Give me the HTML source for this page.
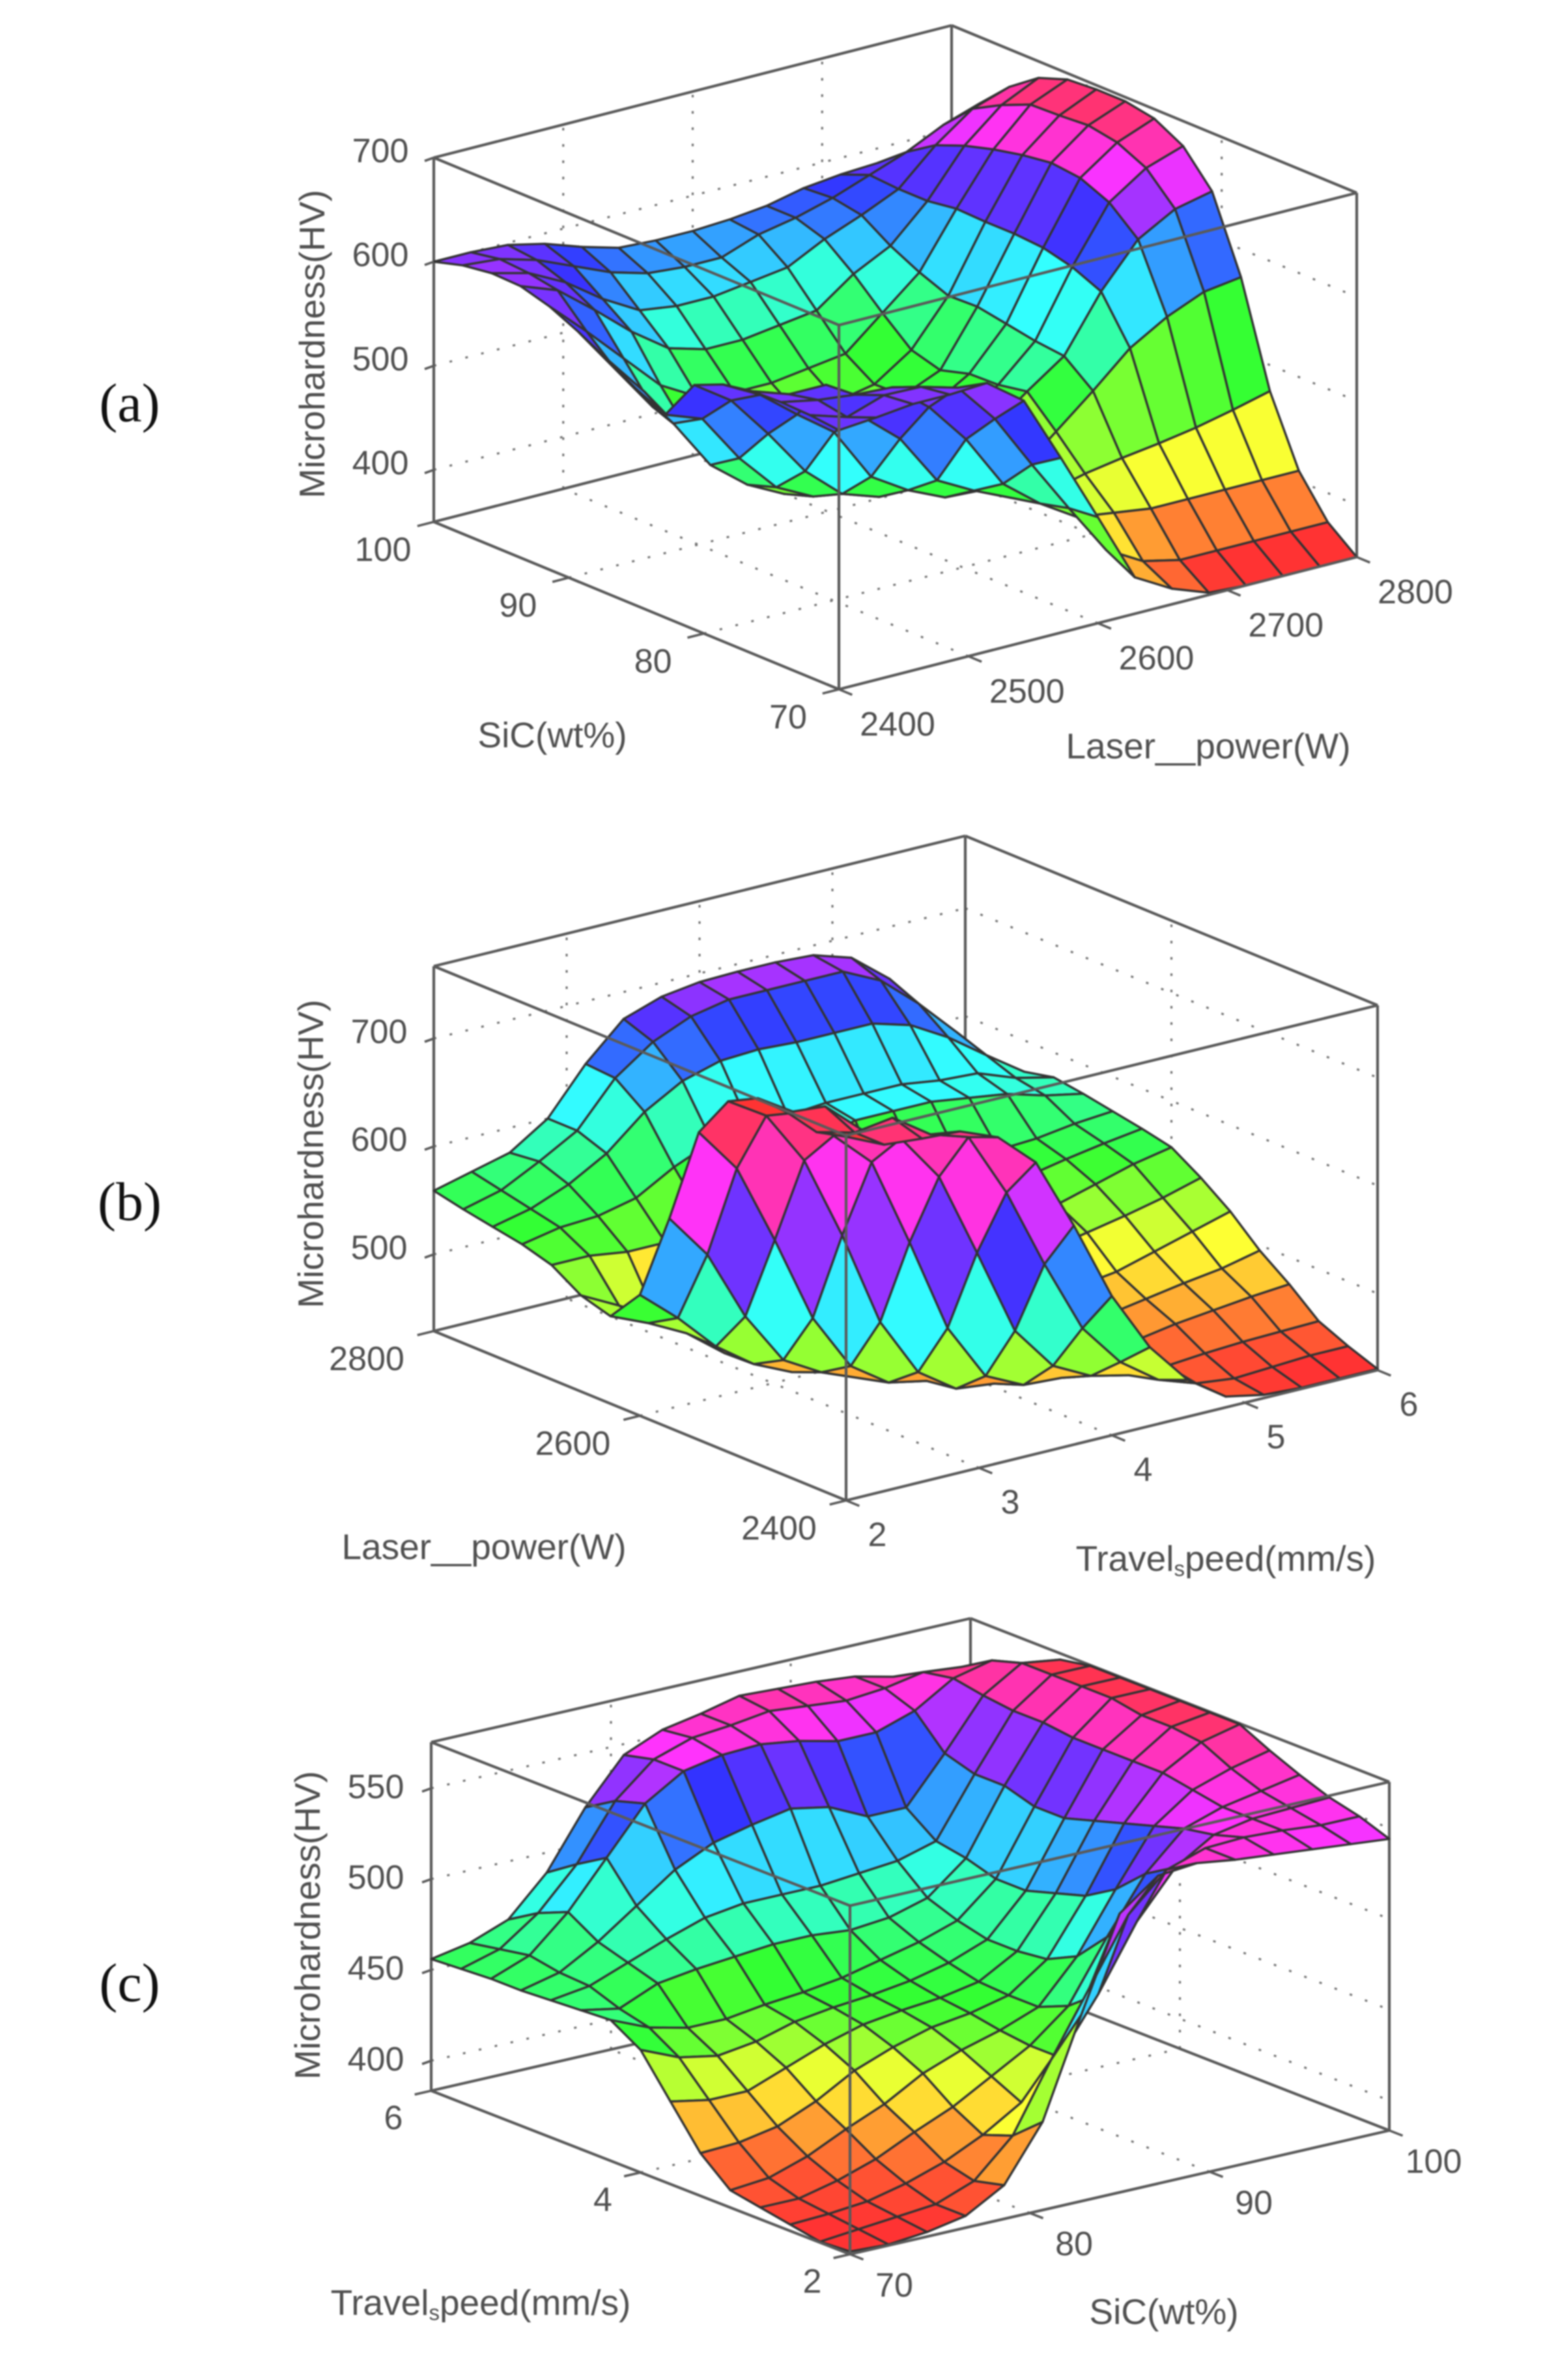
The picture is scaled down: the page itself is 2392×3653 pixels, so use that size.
<!DOCTYPE html>
<html lang="en">
<head>
<meta charset="utf-8">
<title>Microhardness response surfaces</title>
<style>
html,body{margin:0;padding:0;background:#fff;}
#figure{display:block;width:2392px;height:3653px;filter:blur(1px);}
</style>
</head>
<body>
<svg id="figure" xmlns="http://www.w3.org/2000/svg" width="2392" height="3653" viewBox="0 0 2392 3653"></svg>
<script>
/* Rows run along the second floor axis, columns along the first floor axis. */
const surfaceA = [
[599,602,606,606,608,582,518,452,385,365,352,350,350,350,350],
[602,591,603,602,592,553,500,449,400,380,372,372,372,372,372],
[603,596,592,590,562,522,470,442,420,415,410,410,410,410,410],
[602,590,590,550,520,471,452,436,432,441,447,452,458,466,475],
[597,578,550,524,472,450,434,432,440,470,500,532,553,568,573],
[585,561,520,475,444,432,435,450,470,497,522,575,616,636,644],
[545,532,485,448,430,430,435,450,468,492,525,587,640,664,676],
[558,516,467,439,421,425,435,450,470,491,530,594,652,677,691],
[575,535,489,445,425,430,440,452,468,483,535,596,655,682,696],
[590,545,500,465,450,450,455,460,467,491,534,596,651,680,696],
[603,570,535,500,480,475,475,480,485,515,545,597,645,679,694],
[611,598,570,540,515,505,505,510,515,541,559,593,637,667,684],
[612,603,585,560,540,535,535,540,545,563,577,593,626,652,664],
[608,605,595,580,565,555,552,552,565,572,582,595,608,625,637],
[600,600,598,590,578,568,566,566,568,572,580,584,586,590,597]
];
const surfaceB = [
[766,750,747,745,731,699,632,558,502,463,439,432,430,430,430],
[759,750,755,731,720,660,585,517,477,452,440,436,438,440,440],
[766,763,732,716,672,593,512,471,453,445,445,448,450,451,452],
[768,746,716,683,600,512,459,442,440,448,458,464,468,472,475],
[754,732,682,604,515,460,436,432,438,450,470,476,482,487,495],
[714,672,597,516,463,439,432,435,445,470,485,490,500,510,520],
[623,581,515,466,446,432,435,445,470,495,508,515,522,530,540],
[541,511,476,451,435,435,442,458,482,505,520,530,540,550,557],
[510,495,477,450,438,438,448,470,495,515,532,545,552,558,563],
[518,500,480,470,470,480,500,520,545,552,555,558,560,565,568],
[535,535,530,530,545,560,578,590,600,600,600,595,590,580,573],
[543,550,552,560,580,595,600,602,605,605,605,600,598,585,577],
[548,556,570,590,620,640,650,652,650,650,650,640,620,595,571],
[553,562,580,600,640,665,680,687,687,687,687,670,640,605,569],
[559,568,577,600,642,675,687,692,693,693,691,680,652,610,563]
];
const surfaceC = [
[385,384,386,390,402,432,486,537,553,555,552,550,548,546,544],
[384,386,388,390,398,418,455,490,525,545,552,553,552,550,550],
[387,388,390,395,402,412,425,445,475,510,535,548,552,553,554],
[390,390,395,402,412,421,433,445,462,495,525,545,552,556,560],
[393,395,402,412,421,433,441,447,455,478,510,540,555,562,567],
[407,408,412,421,433,441,447,450,455,470,500,535,558,570,575],
[429,425,425,433,441,447,450,452,456,468,495,530,558,572,575],
[451,442,438,441,447,450,452,455,460,468,490,525,558,572,575],
[461,452,447,447,450,452,455,460,465,472,490,525,558,575,575],
[460,456,465,468,470,472,472,470,472,478,495,530,560,575,575],
[459,462,470,478,485,488,488,488,490,492,498,530,560,575,575],
[458,463,475,490,505,515,520,524,520,510,510,535,562,575,572],
[458,466,485,510,535,548,552,553,550,545,545,552,565,570,560],
[457,463,478,500,530,548,555,557,560,558,556,558,562,560,550],
[456,460,468,489,520,544,553,557,562,561,560,558,553,543,540]
];

const zTicksA = [400,500,600,700];
const laserTicksA = [2400,2500,2600,2700,2800];
const sicTicksA = [70,80,90,100];

const zTicksB = [500,600,700];
const travelTicksB = [2,3,4,5,6];
const laserTicksB = [2400,2600,2800];

const zTicksC = [400,450,500,550];
const sicTicksC = [70,80,90,100];
const travelTicksC = [2,4,6];

const SVG_NS = 'http://www.w3.org/2000/svg';
const figure = document.getElementById('figure');

const charts = [
  {id:'a', surface:surfaceA, zTicks:zTicksA, uTicks:laserTicksA, vTicks:sicTicksA,
   uMin:2400, uMax:2800, vMin:70, vMax:100, zMin:350, zMax:700, cMin:350, cMax:700,
   F:[1288,1058], L:[666,801], R:[2083,855], H:559,
   uOff:[90,54], vOff:[-78,43], zOffX:-82, zOffY:-10,
   micro:[479,528], uTitle:[1855,1145], vTitle:[848,1128], panel:[199,619],
   uName:'Laser__power(W)', vName:'SiC(wt%)', uSub:false, vSub:false},
  {id:'b', surface:surfaceB, zTicks:zTicksB, uTicks:travelTicksB, vTicks:laserTicksB,
   uMin:2, uMax:6, vMin:2400, vMax:2800, zMin:429, zMax:767, cMin:430, cMax:768,
   F:[1299,2303], L:[666,2043], R:[2115,2103], H:560,
   uOff:[48,53], vOff:[-103,43], zOffX:-84, zOffY:-10,
   micro:[477,1771], uTitle:[1882,2392], vTitle:[743,2374], panel:[199,1845],
   uName:'Travel_speed(mm/s)', vName:'Laser__power(W)', uSub:true, vSub:false},
  {id:'c', surface:surfaceC, zTicks:zTicksC, uTicks:sicTicksC, vTicks:travelTicksC,
   uMin:70, uMax:100, vMin:2, vMax:6, zMin:383.5, zMax:575.4, cMin:385, cMax:580,
   F:[1305,3460], L:[662,3209], R:[2133,3270], H:535,
   uOff:[68,48], vOff:[-58,42], zOffX:-85, zOffY:-2,
   micro:[472,2955], uTitle:[1787,3548], vTitle:[738,3534], panel:[199,3044],
   uName:'SiC(wt%)', vName:'Travel_speed(mm/s)', uSub:false, vSub:true}
];

function project(c, u, v, z) {
  const w = (z - c.zMin) / (c.zMax - c.zMin);
  return [
    c.F[0] + u * (c.R[0] - c.F[0]) + v * (c.L[0] - c.F[0]),
    c.F[1] + u * (c.R[1] - c.F[1]) + v * (c.L[1] - c.F[1]) - w * c.H
  ];
}

function hueColor(c, z) {
  let t = (z - c.cMin) / (c.cMax - c.cMin);
  t = Math.max(0, Math.min(1, t));
  const h = t * 6, s = 0.8;
  const f = h - Math.floor(h);
  const lo = 1 - s;
  const dn = 1 - s * f;
  const up = 1 - s * (1 - f);
  const table = [[1,up,lo],[dn,1,lo],[lo,1,up],[lo,dn,1],[up,lo,1],[1,lo,dn],[1,up,lo]];
  const rgb = table[Math.floor(h)];
  return 'rgb(' + rgb.map(function (x) { return Math.round(x * 255); }).join(',') + ')';
}

function drawLine(parent, a, b, name, stroke, width, dash) {
  const el = document.createElementNS(SVG_NS, 'line');
  
  
  el.setAttribute('x1', a[0]);
  el.setAttribute('y1', a[1]);
  el.setAttribute('x2', b[0]);
  el.setAttribute('y2', b[1]);
  el.setAttribute('stroke', stroke);
  el.setAttribute('stroke-width', width);
  if (dash) el.setAttribute('stroke-dasharray', dash);
  parent.appendChild(el);
  return el;
}

function drawText(parent, str, pos, name, size, opts) {
  const el = document.createElementNS(SVG_NS, 'text');
  
  
  el.setAttribute('x', pos[0]);
  el.setAttribute('y', pos[1]);
  el.setAttribute('font-size', size);
  el.setAttribute('text-anchor', 'middle');
  el.setAttribute('dominant-baseline', 'central');
  el.setAttribute('font-family', (opts && opts.serif) ? '"Liberation Serif", serif' : '"Liberation Sans", sans-serif');
  el.setAttribute('fill', (opts && opts.fill) || '#505050');
  if (opts && opts.rotate) el.setAttribute('transform', 'rotate(' + opts.rotate + ' ' + pos[0] + ' ' + pos[1] + ')');
  if (opts && opts.sub) {
    const parts = str.split('_s');
    el.appendChild(document.createTextNode(parts[0]));
    const s = document.createElementNS(SVG_NS, 'tspan');
    s.setAttribute('font-size', size * 0.6);
    s.setAttribute('dy', 15);
    s.textContent = 's';
    el.appendChild(s);
    const r = document.createElementNS(SVG_NS, 'tspan');
    r.setAttribute('dy', -15);
    r.textContent = parts[1];
    el.appendChild(r);
  } else {
    el.textContent = str;
  }
  parent.appendChild(el);
  return el;
}

function unit(a, b, len) {
  const dx = b[0] - a[0], dy = b[1] - a[1];
  const d = Math.sqrt(dx * dx + dy * dy);
  return [dx / d * len, dy / d * len];
}

function drawChart(c) {
  const g = document.createElementNS(SVG_NS, 'g');
  
  
  figure.appendChild(g);

  const uPos = function (t) { return (t - c.uMin) / (c.uMax - c.uMin); };
  const vPos = function (t) { return (t - c.vMin) / (c.vMax - c.vMin); };
  const boxColor = '#5a5a5a';
  const gridColor = '#777';
  const dots = '4 21';

  /* dotted grid on the back walls and floor */
  c.zTicks.forEach(function (t) {
    drawLine(g, project(c,0,1,t), project(c,1,1,t), 'z-grid-back-wall', gridColor, 3.2, dots);
    drawLine(g, project(c,1,1,t), project(c,1,0,t), 'z-grid-side-wall', gridColor, 3.2, dots);
  });
  c.uTicks.forEach(function (t) {
    const u = uPos(t);
    drawLine(g, project(c,u,0,c.zMin), project(c,u,1,c.zMin), 'floor-grid-u', gridColor, 3.2, dots);
    drawLine(g, project(c,u,1,c.zMin), project(c,u,1,c.zMax), 'wall-grid-u', gridColor, 3.2, dots);
  });
  c.vTicks.forEach(function (t) {
    const v = vPos(t);
    drawLine(g, project(c,0,v,c.zMin), project(c,1,v,c.zMin), 'floor-grid-v', gridColor, 3.2, dots);
    drawLine(g, project(c,1,v,c.zMin), project(c,1,v,c.zMax), 'wall-grid-v', gridColor, 3.2, dots);
  });

  /* back edges of the box */
  drawLine(g, project(c,0,1,c.zMax), project(c,1,1,c.zMax), 'box-back-top-left', boxColor, 4.2);
  drawLine(g, project(c,1,1,c.zMax), project(c,1,0,c.zMax), 'box-back-top-right', boxColor, 4.2);
  drawLine(g, project(c,1,1,c.zMin), project(c,1,1,c.zMax), 'box-back-vertical', boxColor, 4.2);
  drawLine(g, project(c,0,1,c.zMin), project(c,1,1,c.zMin), 'box-floor-back-left', boxColor, 4.2);
  drawLine(g, project(c,1,1,c.zMin), project(c,1,0,c.zMin), 'box-floor-back-right', boxColor, 4.2);
  drawLine(g, project(c,0,1,c.zMin), project(c,0,1,c.zMax), 'box-left-vertical', boxColor, 4.2);
  drawLine(g, project(c,1,0,c.zMin), project(c,1,0,c.zMax), 'box-right-vertical', boxColor, 4.2);

  /* surface faces, far corner first */
  const rows = c.surface.length;
  const cols = c.surface[0].length;
  for (let k = rows + cols - 4; k >= 0; k--) {
    for (let i = 0; i < rows - 1; i++) {
      const j = k - i;
      if (j < 0 || j >= cols - 1) continue;
      const pts = [[i,j],[i,j+1],[i+1,j+1],[i+1,j]].map(function (p) {
        return project(c, p[1] / (cols - 1), p[0] / (rows - 1), c.surface[p[0]][p[1]]).map(function (n) { return n.toFixed(1); }).join(',');
      }).join(' ');
      const face = document.createElementNS(SVG_NS, 'polygon');
      
      
      face.setAttribute('points', pts);
      face.setAttribute('fill', hueColor(c, c.surface[i][j]));
      face.setAttribute('stroke', '#333');
      face.setAttribute('stroke-width', '3.4');
      face.setAttribute('stroke-linejoin', 'round');
      g.appendChild(face);
    }
  }

  /* front edges of the box */
  drawLine(g, project(c,0,0,c.zMin), project(c,0,1,c.zMin), 'box-floor-front-left', boxColor, 4.2);
  drawLine(g, project(c,0,0,c.zMin), project(c,1,0,c.zMin), 'box-floor-front-right', boxColor, 4.2);
  drawLine(g, project(c,0,0,c.zMin), project(c,0,0,c.zMax), 'box-front-vertical', boxColor, 4.2);
  drawLine(g, project(c,0,0,c.zMax), project(c,0,1,c.zMax), 'box-top-front-left', boxColor, 4.2);
  drawLine(g, project(c,0,0,c.zMax), project(c,1,0,c.zMax), 'box-top-front-right', boxColor, 4.2);

  /* ticks and labels */
  const uTickDir = unit(c.L, c.F, 22);
  const vTickDir = unit(c.R, c.F, 26);
  c.zTicks.forEach(function (t) {
    const p = project(c,0,1,t);
    drawLine(g, p, [p[0] - 14, p[1] + 5], 'z-tick', boxColor, 3.6);
    drawText(g, String(t), [p[0] + c.zOffX, p[1] + c.zOffY], 'z-tick-label', 52);
  });
  c.uTicks.forEach(function (t) {
    const p = project(c,uPos(t),0,c.zMin);
    drawLine(g, p, [p[0] + uTickDir[0], p[1] + uTickDir[1]], 'floor-u-tick', boxColor, 3.6);
    drawText(g, String(t), [p[0] + c.uOff[0], p[1] + c.uOff[1]], 'floor-u-tick-label', 52);
  });
  c.vTicks.forEach(function (t) {
    const p = project(c,0,vPos(t),c.zMin);
    drawLine(g, p, [p[0] + vTickDir[0], p[1] + vTickDir[1]], 'floor-v-tick', boxColor, 3.6);
    drawText(g, String(t), [p[0] + c.vOff[0], p[1] + c.vOff[1]], 'floor-v-tick-label', 52);
  });

  drawText(g, 'Microhardness(HV)', c.micro, 'z-axis-title', 55, {rotate: -90});
  drawText(g, c.uName, c.uTitle, 'floor-u-axis-title', 55, {sub: c.uSub});
  drawText(g, c.vName, c.vTitle, 'floor-v-axis-title', 55, {sub: c.vSub});
  drawText(g, '(' + c.id + ')', c.panel, 'panel-label', 84, {serif: true, fill: '#111'});
}

charts.forEach(drawChart);
</script>
</body>
</html>
